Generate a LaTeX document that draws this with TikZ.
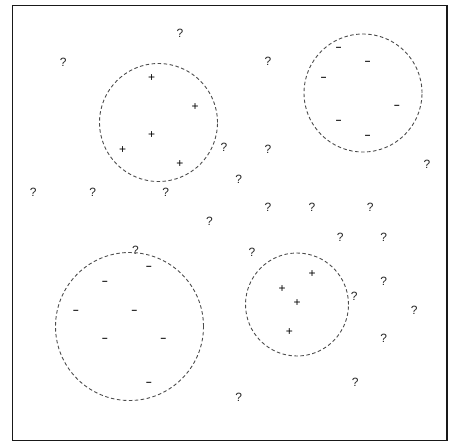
\documentclass[tikz,border=0pt]{standalone}
\usepackage{fontspec}
\setmainfont{Liberation Sans}
\begin{document}
\begin{tikzpicture}[x=1pt,y=-1pt,
  lbl/.style={inner sep=0pt,font=\fontsize{12}{12}\selectfont,text=black!85},
  sgn/.style={inner sep=0pt,font=\fontsize{12}{12}\selectfont,text=black},
  neg/.style={inner sep=0pt,font=\bfseries\fontsize{10}{10}\selectfont,text=black},
  cluster/.style={circle,draw=black!70,dash pattern=on 3.5pt off 2.5pt,line width=0.9pt,inner sep=0pt}]
\useasboundingbox (0,0) rectangle (454,442);
\draw[line width=1.3pt,black!90] (12.5,5.5) rectangle (447,440.5);
% clusters
\node[cluster,minimum size=118pt] (c1) at (158.5,122.5) {};
\node[cluster,minimum size=118pt] (c2) at (363,93) {};
\node[cluster,minimum size=148pt] (c3) at (129.5,326.5) {};
\node[cluster,minimum size=103pt] (c4) at (297,304.5) {};
% plus signs
\foreach \x/\y [count=\i] in {151.7/77.7,195/106.7,151.7/135,122.7/150,180/164.3,312/273.7,282/288.7,297/303.3,289.3/332}
  \node[sgn] (p\i) at (\x,\y) {+};
% minus signs
\foreach \x/\y [count=\i] in {338.7/49.3,367.7/63.3,323.7/78.7,397/107.3,338.7/122.3,367.7/136.7,149/267.7,105/282.7,76/311.7,134.3/311.7,105/340.3,163.3/340.3,149/384.3}
  \node[neg] (m\i) at (\x,\y) {–};
% question marks
\foreach \x/\y [count=\i] in {180/33.3,63.3/62.7,268/61.7,224/147,268/149,427/164,238.7/179,33.3/192.7,92.7/192.7,165.7/192.7,209.5/221.5,268/207,312/207,370.3/207,135.5/250.3,340.3/237.7,383.7/237.7,252/252.7,383.7/281,354.3/296,414.3/310.3,383.7/338.3,355.3/382.7,238.7/397.7}
  \node[lbl] (q\i) at (\x,\y) {?};
\end{tikzpicture}
\end{document}
